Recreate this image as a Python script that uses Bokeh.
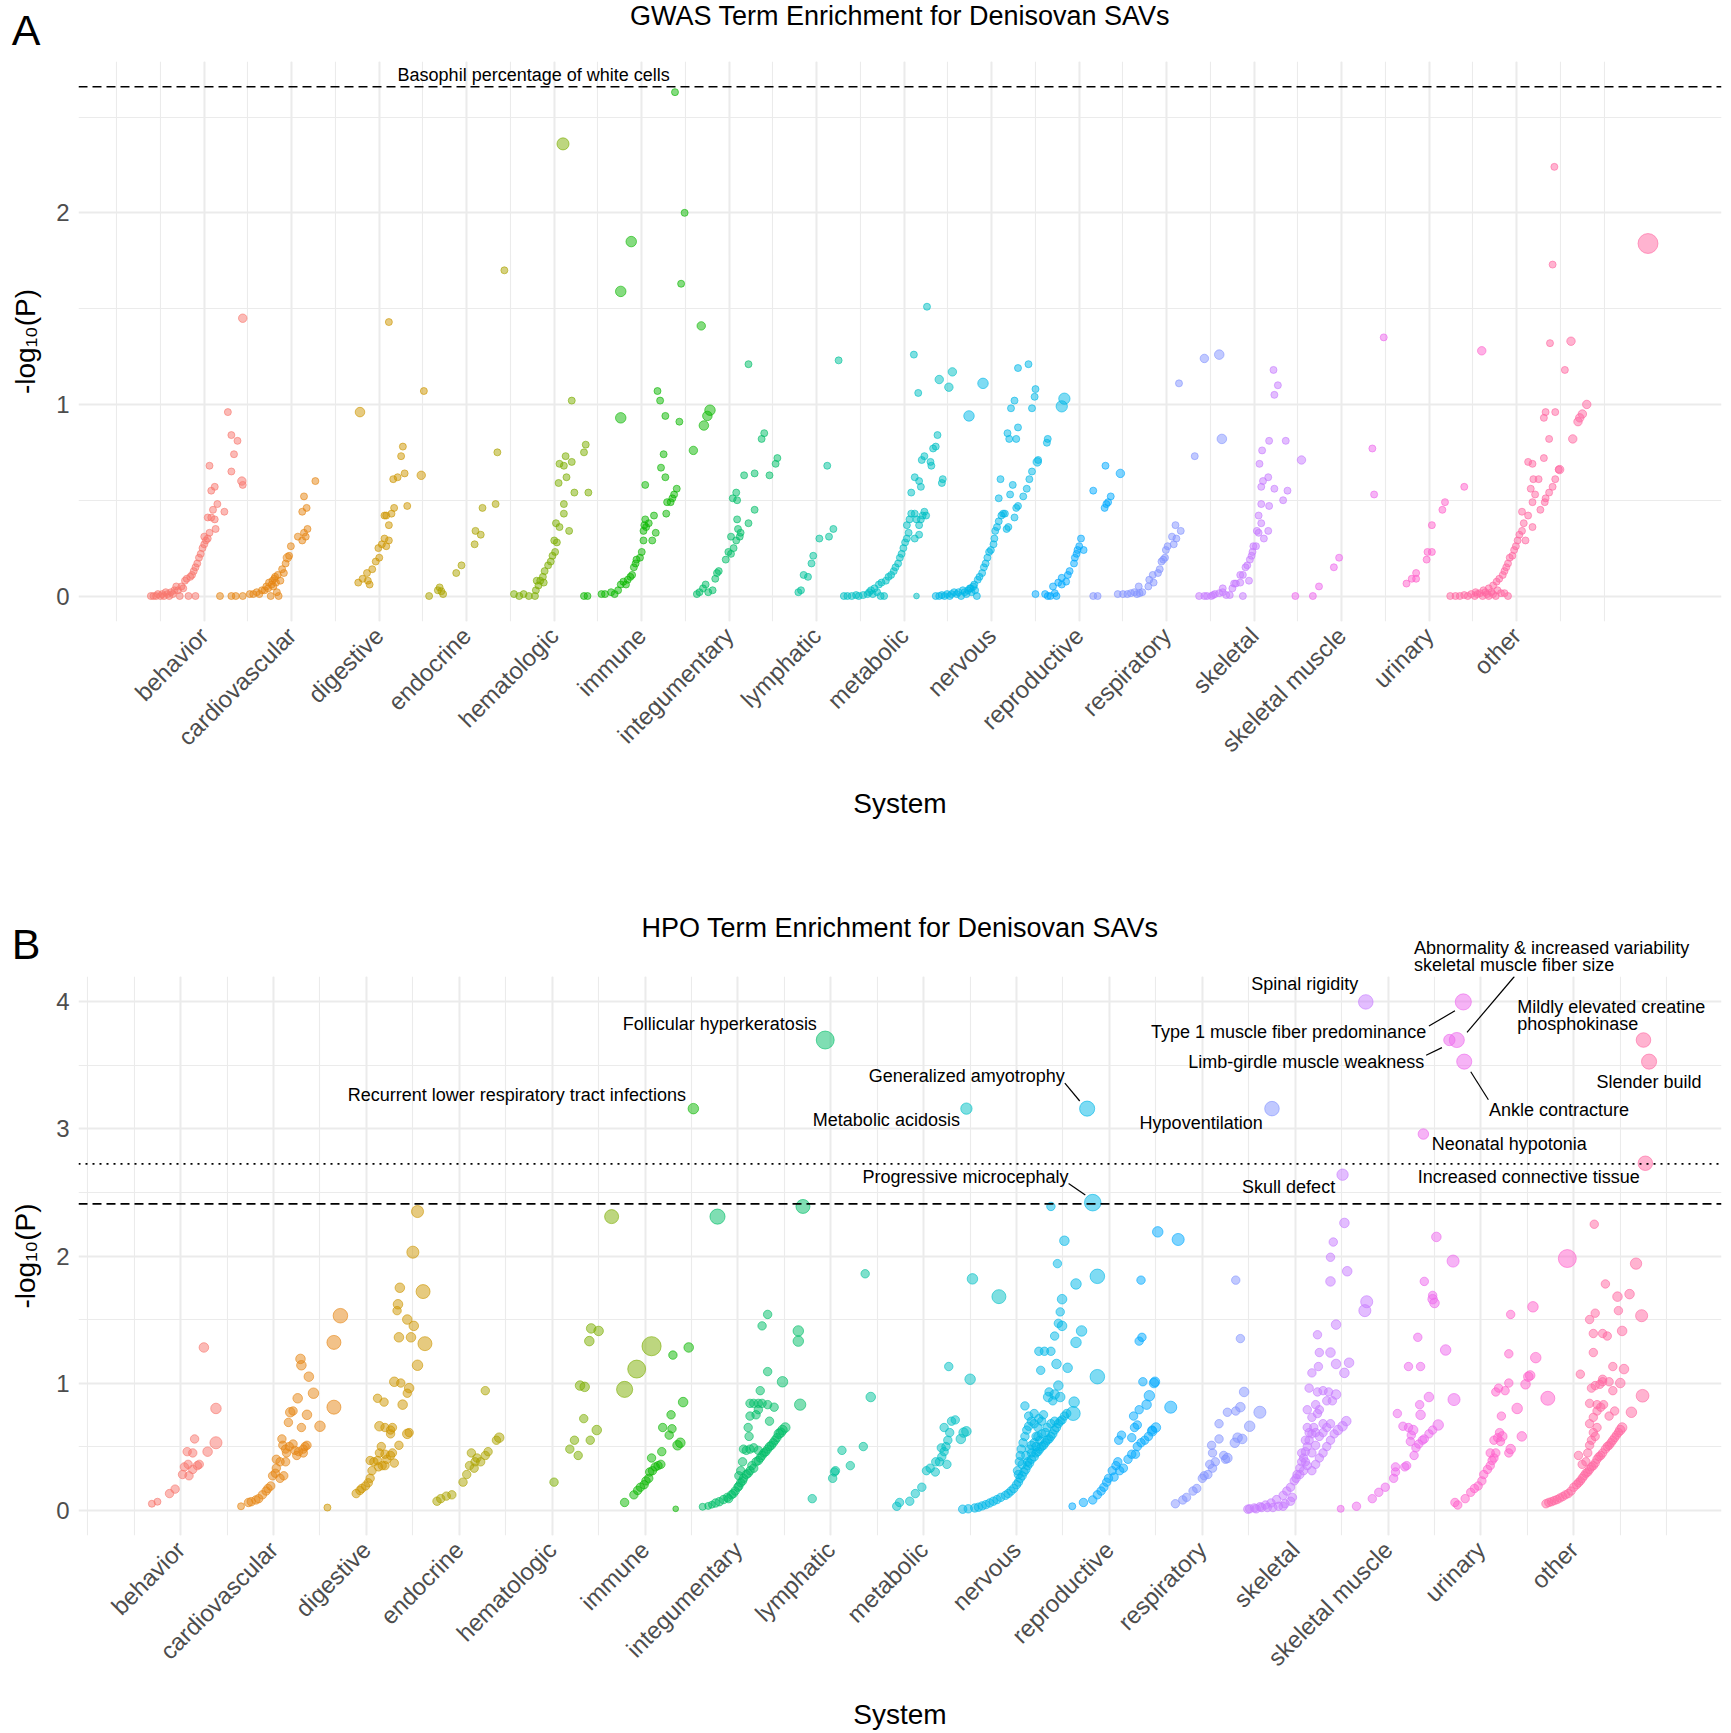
import math
from bokeh.plotting import figure
from bokeh.models import FixedTicker, Span, Label, Range1d
from bokeh.layouts import column
from bokeh.embed import file_html
from bokeh.resources import INLINE

systems = ["behavior", "cardiovascular", "digestive", "endocrine", "hematologic", "immune",
           "integumentary", "lymphatic", "metabolic", "nervous", "reproductive", "respiratory",
           "skeletal", "skeletal muscle", "urinary", "other"]
palette = ["#F8766D", "#E68613", "#CD9600", "#ABA300", "#7CAE00", "#0CB702", "#00BE67", "#00C19A",
           "#00BFC4", "#00B8E7", "#00A9FF", "#8494FF", "#C77CFF", "#ED68ED", "#FF61CC", "#FF68A1"]

# ---------------- GWAS (panel A): (position, -log10 P, gene count) ----------------
gwas_behavior = [(0.39,0.0,1),(0.42,0.0,1),(0.45,0.0,1),(0.47,0.01,1),(0.5,0.0,1),(0.52,0.01,1),(0.54,0.0,1),
    (0.56,0.02,1),(0.58,0.01,1),(0.6,0.0,1),(0.62,0.02,1),(0.64,0.01,1),(0.66,0.03,1),(0.68,0.05,1),(0.7,0.03,1),
    (0.72,0.0,1),(0.74,0.05,1),(0.76,0.04,1),(0.78,0.08,1),(0.8,0.09,1),(0.82,0.0,1),(0.84,0.1,1),(0.86,0.11,1),
    (0.88,0.13,1),(0.9,0.0,1),(0.9,0.15,1),(0.92,0.17,1),(0.94,0.2,1),(0.96,0.22,1),(0.98,0.25,1),(1.0,0.27,1),
    (1.02,0.29,1),(1.04,0.3,1),(1.0,0.31,1),(1.06,0.33,1),(1.04,0.41,1),(1.08,0.41,1),(1.1,0.45,1),(1.13,0.35,1),
    (1.15,0.48,1),(1.12,0.4,1),(1.08,0.55,1),(1.12,0.57,1),(1.06,0.68,1),(1.23,0.44,1),(1.27,0.96,1),(1.31,0.84,1),
    (1.38,0.81,1),(1.34,0.74,1),(1.31,0.65,1),(1.43,0.6,2),(1.44,0.58,1),(1.44,1.45,2)]
gwas_cardiovascular = [(1.18,0.0,1),(1.31,0.0,1),(1.36,0.0,1),(1.44,0.0,1),(1.52,0.01,1),(1.56,0.01,1),(1.6,0.02,1),
    (1.63,0.01,1),(1.66,0.03,1),(1.69,0.03,1),(1.71,0.05,1),(1.73,0.04,1),(1.74,0.07,1),(1.76,0.0,1),(1.77,0.06,1),
    (1.78,0.08,1),(1.79,0.05,1),(1.8,0.09,1),(1.81,0.1,1),(1.82,0.07,1),(1.83,0.02,1),(1.84,0.11,1),(1.85,0.0,1),
    (1.87,0.08,1),(1.89,0.14,1),(1.91,0.12,1),(1.93,0.17,1),(1.95,0.2,2),(1.97,0.21,1),(1.99,0.26,1),(2.07,0.31,1),
    (2.12,0.29,1),(2.14,0.33,1),(2.16,0.31,1),(2.18,0.35,1),(2.12,0.44,1),(2.17,0.46,1),(2.14,0.52,1),(2.27,0.6,1)]
gwas_digestive = [(2.76,0.07,1),(2.81,0.09,1),(2.87,0.08,1),(2.89,0.06,1),(2.86,0.12,1),(2.92,0.14,1),(2.96,0.18,1),
    (3.0,0.2,1),(2.99,0.25,1),(3.03,0.27,1),(3.08,0.26,1),(3.06,0.3,1),(3.11,0.29,1),(3.11,0.37,1),(3.06,0.42,1),
    (3.08,0.42,1),(3.14,0.43,1),(3.17,0.46,1),(3.32,0.47,1),(3.16,0.61,1),(3.21,0.62,1),(3.29,0.64,1),(3.25,0.73,1),
    (3.27,0.78,1),(3.48,0.63,2),(2.78,0.96,3),(3.51,1.07,1),(3.11,1.43,1)]
gwas_endocrine = [(3.57,0.0,1),(3.67,0.03,1),(3.69,0.045,1),(3.71,0.025,1),(3.73,0.01,1),(3.88,0.12,1),(3.94,0.16,1),
    (4.09,0.27,1),(4.16,0.32,1),(4.1,0.34,1),(4.18,0.46,1),(4.33,0.48,1),(4.35,0.75,1),(4.43,1.7,1)]
gwas_hematologic = [(4.54,0.01,1),(4.6,0.0,1),(4.65,0.01,1),(4.71,0.0,1),(4.78,0.0,1),(4.79,0.03,1),(4.8,0.08,1),
    (4.84,0.08,1),(4.82,0.055,1),(4.88,0.07,1),(4.89,0.13,1),(4.87,0.1,1),(4.93,0.16,1),(4.96,0.18,1),(4.98,0.21,1),
    (5.01,0.23,1),(5.0,0.29,1),(5.03,0.28,1),(5.02,0.38,1),(5.06,0.36,1),(5.17,0.34,1),(5.11,0.43,1),(5.11,0.48,1),
    (5.23,0.54,1),(5.39,0.54,1),(5.05,0.59,1),(5.14,0.62,1),(5.06,0.69,1),(5.11,0.68,1),(5.13,0.73,1),(5.2,0.7,1),
    (5.34,0.75,1),(5.36,0.79,1),(5.2,1.02,1),(5.1,2.36,6)]
gwas_immune = [(5.34,0.0,1),(5.38,0.0,1),(5.54,0.01,1),(5.58,0.01,1),(5.65,0.02,1),(5.69,0.01,1),(5.73,0.03,1),
    (5.76,0.06,1),(5.79,0.075,1),(5.82,0.06,1),(5.84,0.085,1),(5.87,0.1,1),(5.89,0.11,1),(5.91,0.15,1),(5.93,0.17,1),
    (5.94,0.19,1),(5.98,0.2,1),(6.0,0.23,1),(6.02,0.29,1),(6.02,0.34,1),(6.03,0.37,1),(6.05,0.36,1),(6.08,0.38,1),
    (6.04,0.4,1),(6.12,0.29,1),(6.16,0.33,1),(6.14,0.42,1),(6.04,0.58,1),(6.28,0.43,1),(6.29,0.49,1),(6.33,0.49,1),
    (6.35,0.51,1),(6.37,0.53,1),(6.4,0.56,1),(6.22,0.67,1),(6.27,0.62,1),(6.25,0.74,1),(6.27,0.94,1),(6.21,1.02,1),
    (6.18,1.07,1),(6.43,0.91,1),(5.76,0.93,4),(5.76,1.59,4),(5.88,1.85,4),(6.59,0.76,2),(6.68,1.41,2),(6.71,0.89,3),
    (6.75,0.94,3),(6.78,0.97,4),(6.38,2.63,1),(6.49,2.0,1),(6.45,1.63,1)]
gwas_integumentary = [(6.63,0.01,1),(6.66,0.02,1),(6.7,0.04,1),(6.73,0.06,1),(6.76,0.02,1),(6.81,0.03,1),(6.84,0.09,1),
    (6.86,0.12,1),(6.88,0.13,1),(6.96,0.19,1),(6.99,0.23,1),(7.02,0.22,1),(7.05,0.25,1),(7.08,0.29,1),(7.02,0.31,1),
    (7.12,0.31,1),(7.13,0.33,1),(7.1,0.35,1),(7.09,0.4,1),(7.22,0.38,1),(7.29,0.45,1),(7.04,0.51,1),(7.09,0.5,1),
    (7.08,0.54,1),(7.17,0.63,1),(7.29,0.64,1),(7.46,0.63,1),(7.53,0.69,1),(7.55,0.72,1),(7.37,0.82,1),(7.4,0.85,1),
    (7.22,1.21,1)]
gwas_lymphatic = [(7.79,0.02,1),(7.82,0.03,1),(7.85,0.11,1),(7.9,0.1,1),(7.94,0.17,1),(7.96,0.21,1),(8.03,0.3,1),
    (8.14,0.31,1),(8.19,0.35,1),(8.12,0.68,1),(8.25,1.23,1)]
gwas_metabolic = [(8.31,0.0,1),(8.35,0.0,1),(8.4,0.0,1),(8.45,0.005,1),(8.48,0.0,1),(8.53,0.005,1),(8.58,0.01,1),
    (8.6,0.02,1),(8.64,0.01,1),(8.69,0.02,1),(8.73,0.0,1),(8.77,0.0,1),(8.62,0.03,1),(8.66,0.04,1),(8.71,0.06,1),
    (8.74,0.07,1),(8.79,0.08,1),(8.82,0.1,1),(8.85,0.11,1),(8.88,0.13,1),(8.9,0.15,1),(8.93,0.17,1),(8.95,0.2,1),
    (8.97,0.22,1),(8.99,0.25,1),(9.01,0.28,1),(9.03,0.3,1),(9.05,0.33,1),(9.03,0.37,1),(9.06,0.4,1),(9.08,0.43,1),
    (9.12,0.43,1),(9.14,0.4,1),(9.17,0.37,1),(9.19,0.4,1),(9.21,0.42,1),(9.23,0.44,1),(9.25,0.42,1),(9.17,0.32,1),
    (9.12,0.3,1),(9.08,0.54,1),(9.12,0.62,1),(9.17,0.6,1),(9.19,0.57,1),(9.2,0.71,1),(9.23,0.73,1),(9.3,0.7,1),
    (9.31,0.68,1),(9.33,0.77,1),(9.36,0.78,1),(9.38,0.84,1),(9.43,0.59,1),(9.44,0.61,1),(9.16,1.06,1),(9.11,1.26,1),
    (9.4,1.13,2),(9.51,1.09,2),(9.55,1.17,2),(9.26,1.51,1),(9.14,0.0,0.4)]
gwas_nervous = [(9.36,0.0,1),(9.4,0.0,1),(9.43,0.005,1),(9.46,0.0,1),(9.49,0.01,1),(9.52,0.0,1),(9.54,0.01,1),
    (9.57,0.02,1),(9.6,0.01,1),(9.62,0.02,1),(9.65,0.0,1),(9.67,0.03,1),(9.69,0.02,1),(9.71,0.01,1),(9.73,0.03,1),
    (9.75,0.04,1),(9.77,0.02,1),(9.79,0.05,1),(9.81,0.03,1),(9.83,0.0,1),(9.76,0.04,1),(9.8,0.06,1),(9.84,0.085,1),
    (9.86,0.1,1),(9.89,0.12,1),(9.91,0.15,1),(9.93,0.17,1),(9.95,0.2,1),(9.97,0.23,1),(9.99,0.24,1),(10.02,0.27,1),
    (10.03,0.3,1),(10.04,0.34,1),(10.06,0.36,1),(10.08,0.39,1),(10.11,0.42,1),(10.13,0.43,1),(10.15,0.43,1),
    (10.17,0.35,1),(10.19,0.36,1),(10.1,0.61,1),(10.08,0.51,1),(10.21,0.53,1),(10.24,0.58,1),(10.26,0.41,1),
    (10.28,0.46,1),(10.3,0.47,1),(10.36,0.52,1),(10.4,0.56,1),(10.43,0.61,1),(10.46,0.65,1),(10.52,0.7,2),
    (10.53,0.71,1),(10.18,0.85,1),(10.2,0.82,1),(10.28,0.82,1),(10.3,0.88,1),(10.22,0.98,1),(10.26,1.02,1),
    (10.3,1.19,1),(10.42,1.21,1),(10.5,1.08,1),(10.49,1.04,1),(10.46,0.98,1),(10.63,0.8,1),(10.64,0.82,1),
    (10.8,0.99,5),(10.83,1.03,5),(9.74,0.94,4),(9.9,1.11,4)]
gwas_reproductive = [(10.5,0.01,1),(10.61,0.01,1),(10.64,0.0,1),(10.67,0.0,1),(10.72,0.015,1),(10.74,0.0,1),
    (10.7,0.05,1),(10.76,0.07,1),(10.8,0.06,1),(10.85,0.075,1),(10.8,0.095,1),(10.87,0.11,1),(10.89,0.13,1),
    (10.94,0.17,1),(10.95,0.2,1),(10.97,0.22,1),(10.98,0.24,1),(11.0,0.26,1),(11.02,0.3,1),(11.05,0.24,1),
    (11.16,0.55,1),(11.29,0.46,1),(11.31,0.48,1),(11.33,0.49,1),(11.36,0.52,1),(11.3,0.68,1),(11.47,0.64,2)]
gwas_respiratory = [(11.16,0.0,1),(11.21,0.0,1),(11.44,0.01,1),(11.5,0.01,1),(11.55,0.01,1),(11.59,0.015,1),
    (11.63,0.02,1),(11.66,0.01,1),(11.69,0.015,1),(11.72,0.02,1),(11.68,0.05,1),(11.79,0.05,1),(11.8,0.085,1),
    (11.85,0.07,1),(11.84,0.11,1),(11.9,0.12,1),(11.92,0.14,1),(11.94,0.18,1),(11.96,0.19,1),(11.98,0.2,1),
    (11.99,0.24,1),(12.01,0.26,1),(12.08,0.27,1),(12.11,0.3,1),(12.06,0.31,1),(12.1,0.37,1),(12.16,0.34,1),
    (12.14,1.11,1),(12.32,0.73,1),(12.43,1.24,2),(12.6,1.26,3),(12.63,0.82,3)]
gwas_skeletal = [(12.37,0.0,1),(12.43,0.0,1),(12.46,0.0,1),(12.51,0.0,1),(12.53,0.005,1),(12.55,0.01,1),(12.6,0.015,1),
    (12.64,0.02,1),(12.68,0.005,1),(12.72,0.005,1),(12.64,0.04,1),(12.75,0.04,1),(12.77,0.065,1),(12.79,0.065,1),
    (12.84,0.07,1),(12.84,0.11,1),(12.87,0.11,1),(12.94,0.08,1),(12.87,0.0,1),(12.9,0.15,1),(12.92,0.16,1),
    (12.95,0.19,1),(12.97,0.21,1),(12.98,0.23,1),(12.99,0.26,1),(13.02,0.26,1),(13.03,0.34,1),(13.05,0.33,1),
    (13.08,0.38,1),(13.05,0.42,1),(13.11,0.3,1),(13.16,0.34,1),(13.17,0.47,1),(13.08,0.48,1),(13.23,0.56,1),
    (13.1,0.6,1),(13.16,0.62,1),(13.08,0.57,1),(13.06,0.69,1),(13.09,0.76,1),(13.17,0.81,1),(13.36,0.81,1),
    (13.33,0.5,1),(13.38,0.55,1),(13.54,0.71,2),(13.22,1.18,1),(13.27,1.1,1),(13.23,1.05,1)]
gwas_skeletal_muscle = [(13.47,0.0,1),(13.67,0.0,1),(13.74,0.05,1),(13.91,0.15,1),(13.97,0.2,1),(14.37,0.53,1),
    (14.35,0.77,1),(14.48,1.35,1)]
gwas_urinary = [(14.74,0.065,1),(14.8,0.09,1),(14.85,0.09,1),(14.85,0.12,1),(14.97,0.19,1),(14.98,0.23,1),
    (15.03,0.23,1),(15.03,0.37,1),(15.15,0.45,1),(15.18,0.49,1),(15.4,0.57,1),(15.6,1.28,2)]
gwas_other = [(15.24,0.0,1),(15.3,0.0,1),(15.35,0.0,1),(15.4,0.005,1),(15.44,0.0,1),(15.48,0.01,1),(15.52,0.0,1),
    (15.55,0.01,1),(15.58,0.015,1),(15.61,0.0,1),(15.64,0.02,1),(15.66,0.01,1),(15.68,0.0,1),(15.71,0.02,1),
    (15.73,0.01,1),(15.76,0.0,1),(15.78,0.03,1),(15.82,0.015,1),(15.86,0.015,1),(15.9,0.0,1),(15.53,0.02,1),
    (15.62,0.03,1),(15.68,0.04,1),(15.73,0.055,1),(15.77,0.075,1),(15.8,0.09,1),(15.84,0.11,1),(15.86,0.13,1),
    (15.88,0.15,1),(15.9,0.17,1),(15.92,0.2,1),(15.95,0.21,1),(15.97,0.24,1),(15.99,0.26,1),(16.01,0.29,1),
    (16.03,0.32,1),(16.06,0.34,1),(16.08,0.38,1),(16.1,0.29,1),(16.06,0.44,1),(16.13,0.42,1),(16.18,0.36,1),
    (16.18,0.49,1),(16.16,0.56,1),(16.21,0.53,1),(16.19,0.61,1),(16.25,0.61,1),(16.27,0.45,1),(16.32,0.49,1),
    (16.33,0.51,1),(16.37,0.54,1),(16.41,0.57,1),(16.44,0.61,1),(16.48,0.66,1),(16.49,0.66,2),(16.13,0.7,1),
    (16.18,0.69,1),(16.31,0.72,1),(16.37,0.82,1),(16.31,0.93,1),(16.33,0.96,1),(16.44,0.96,1),(16.64,0.82,2),
    (16.7,0.91,2),(16.72,0.93,2),(16.75,0.95,2),(16.8,1.0,2),(16.55,1.18,1),(16.38,1.32,1),(16.62,1.33,2),
    (16.41,1.73,1),(16.43,2.24,1),(17.5,1.84,22)]

# ---------------- HPO (panel B): (position, -log10 P, gene count) ----------------
hpo_behavior = [(0.69,0.05,1),(0.75,0.066,1),(0.88,0.13,2),(0.94,0.165,2),(1.02,0.28,2),(1.04,0.34,2),(1.08,0.36,2),
    (1.09,0.27,2),(1.13,0.32,2),(1.07,0.46,2),(1.13,0.45,2),(1.15,0.56,2),(1.18,0.35,2),(1.2,0.36,2),(1.25,1.28,3),
    (1.29,0.46,3),(1.38,0.8,4),(1.38,0.53,6)]
hpo_cardiovascular = [(1.65,0.03,1),(1.73,0.06,2),(1.76,0.066,2),(1.81,0.08,2),(1.84,0.09,2),(1.88,0.12,2),
    (1.92,0.15,2),(1.94,0.17,2),(1.97,0.19,2),(1.99,0.27,2),(2.03,0.33,2),(2.02,0.29,2),(2.07,0.25,2),(2.11,0.27,2),
    (2.03,0.4,2),(2.07,0.38,2),(2.13,0.38,2),(2.1,0.51,2),(2.13,0.48,2),(2.14,0.45,2),(2.17,0.5,2),(2.21,0.52,2),
    (2.23,0.47,2),(2.25,0.43,2),(2.27,0.46,2),(2.32,0.48,2),(2.34,0.5,2),(2.36,0.51,2),(2.32,0.45,2),(2.09,0.56,2),
    (2.16,0.69,2),(2.3,0.65,2),(2.18,0.77,3),(2.21,0.78,2),(2.26,0.88,3),(2.36,0.75,3),(2.29,1.19,3),(2.3,1.14,3),
    (2.38,1.05,3),(2.43,0.92,4),(2.5,0.66,4),(2.65,0.81,9),(2.65,1.32,9),(2.72,1.53,10)]
hpo_digestive = [(2.58,0.02,1),(2.89,0.13,2),(2.93,0.155,2),(2.95,0.17,2),(2.99,0.19,2),(3.02,0.215,2),(3.04,0.25,2),
    (3.06,0.31,2),(3.08,0.38,2),(3.12,0.39,2),(3.13,0.34,2),(3.17,0.35,2),(3.2,0.35,2),(3.2,0.44,2),(3.22,0.4,2),
    (3.26,0.43,2),(3.28,0.45,2),(3.3,0.37,2),(3.35,0.51,2),(3.04,0.39,2),(3.14,0.45,2),(3.16,0.5,2),(3.2,0.65,2),
    (3.14,0.66,3),(3.26,0.63,2),(3.26,0.6,2),(3.28,0.65,2),(3.39,0.83,3),(3.44,0.6,3),(3.46,0.61,2),(3.12,0.88,2),
    (3.19,0.85,2),(3.3,1.01,3),(3.37,1.0,2),(3.46,0.96,3),(3.44,0.92,2),(3.35,1.36,3),(3.48,1.36,3),(3.51,1.45,3),
    (3.44,1.5,3),(3.33,1.57,2),(3.34,1.62,3),(3.36,1.75,3),(3.55,1.14,4),(3.63,1.31,9),(3.61,1.72,9),(3.5,2.03,6),
    (3.55,2.35,6)]
hpo_endocrine = [(3.76,0.07,2),(3.8,0.09,2),(3.86,0.11,2),(3.92,0.12,2),(4.04,0.22,2),(4.08,0.28,2),(4.11,0.35,2),
    (4.16,0.33,2),(4.17,0.38,2),(4.13,0.45,2),(4.19,0.41,2),(4.23,0.38,2),(4.28,0.43,2),(4.31,0.46,2),(4.4,0.55,2),
    (4.43,0.57,3),(4.28,0.94,2)]
hpo_hematologic = [(5.02,0.22,2),(5.19,0.48,2),(5.24,0.55,2),(5.28,0.43,2),(5.34,0.72,2),(5.48,0.63,3),(5.41,0.55,2),
    (5.3,0.98,3),(5.35,0.97,3),(5.4,1.33,3),(5.42,1.43,3),(5.5,1.41,3),(5.64,2.31,9),(5.78,0.95,13),(5.91,1.11,17),
    (6.07,1.29,20)]
hpo_immune = [(5.78,0.06,2),(5.88,0.12,2),(5.92,0.155,2),(5.95,0.18,2),(5.99,0.2,2),(6.01,0.23,2),(6.04,0.25,2),
    (6.05,0.3,2),(6.08,0.31,2),(6.11,0.34,2),(6.14,0.35,2),(6.17,0.36,2),(6.07,0.41,2),(6.18,0.46,2),(6.19,0.65,2),
    (6.28,0.75,2),(6.26,0.59,2),(6.29,0.64,2),(6.3,1.22,2),(6.35,0.51,3),(6.38,0.53,3),(6.41,0.85,3),(6.47,1.28,3),
    (6.33,0.01,0.4),(6.52,3.16,4)]
hpo_integumentary = [(6.62,0.026,1),(6.68,0.033,1),(6.72,0.043,1),(6.76,0.056,2),(6.8,0.066,2),(6.845,0.083,2),
    (6.885,0.1,2),(6.93,0.12,2),(6.97,0.15,2),(7.0,0.18,2),(7.03,0.215,2),(7.06,0.25,2),(7.09,0.28,2),(7.13,0.31,2),
    (7.15,0.35,2),(7.195,0.38,2),(7.24,0.41,2),(7.28,0.45,2),(7.32,0.48,2),(7.36,0.51,2),(7.4,0.55,2),(7.44,0.6,3),
    (7.48,0.63,3),(7.51,0.65,3),(6.9,0.09,2),(6.95,0.13,2),(7.01,0.19,2),(7.05,0.23,2),(7.11,0.29,2),(7.17,0.33,2),
    (7.22,0.39,2),(7.26,0.43,2),(7.3,0.46,2),(7.34,0.5,2),(7.38,0.53,2),(7.42,0.57,2),(7.46,0.61,3),(7.01,0.27,2),
    (7.03,0.31,2),(7.05,0.38,2),(7.06,0.48,2),(7.09,0.47,2),(7.13,0.48,2),(7.17,0.49,2),(7.22,0.47,2),(7.11,0.65,2),
    (7.13,0.74,2),(7.195,0.75,2),(7.22,0.84,2),(7.26,0.84,2),(7.13,0.84,2),(7.17,0.84,2),(7.24,0.94,2),(7.22,0.79,2),
    (7.32,0.83,2),(7.39,0.81,2),(7.34,0.7,2),(7.12,0.58,2),(7.32,1.09,2),(7.48,1.01,4),(7.65,1.41,4),(7.65,1.33,4),
    (7.67,0.83,5),(7.26,1.45,2),(7.32,1.54,2),(6.78,2.31,11),(7.7,2.39,9),(7.94,3.7,17)]
hpo_lymphatic = [(7.8,0.09,2),(8.02,0.25,2),(8.04,0.3,2),(8.05,0.31,2),(8.12,0.47,2),(8.21,0.35,2),(8.35,0.5,2),
    (8.43,0.89,3),(8.37,1.86,2)]
hpo_metabolic = [(8.71,0.03,2),(8.74,0.06,2),(8.85,0.07,2),(8.91,0.13,2),(8.98,0.18,2),(9.03,0.31,2),(9.07,0.33,2),
    (9.125,0.3,2),(9.13,0.38,2),(9.17,0.38,2),(9.195,0.42,2),(9.22,0.46,2),(9.24,0.5,2),(9.26,0.55,2),(9.28,0.61,2),
    (9.3,0.7,2),(9.34,0.71,2),(9.22,0.65,2),(9.25,0.36,2),(9.19,0.49,2),(9.4,0.56,3),(9.43,0.61,3),(9.46,0.62,3),
    (9.27,1.13,2),(9.5,1.03,4),(9.525,1.82,4),(9.46,3.16,5),(9.81,1.68,9)]
hpo_nervous = [(9.42,0.007,2),(9.48,0.01,2),(9.55,0.017,2),(9.59,0.023,2),(9.63,0.033,2),(9.67,0.043,2),
    (9.71,0.056,2),(9.75,0.07,2),(9.79,0.083,2),(9.83,0.1,2),(9.88,0.116,2),(9.91,0.13,2),(9.94,0.15,2),
    (9.97,0.17,2),(10.0,0.2,2),(10.02,0.22,2),(10.04,0.25,2),(10.06,0.27,2),(10.08,0.3,2),(10.1,0.32,2),
    (10.12,0.35,2),(10.14,0.37,2),(10.16,0.4,2),(10.19,0.42,2),(10.21,0.45,2),(10.23,0.46,2),(10.25,0.48,2),
    (10.27,0.5,2),(10.29,0.51,2),(10.31,0.53,2),(10.33,0.55,2),(10.35,0.56,2),(10.37,0.58,2),(10.39,0.6,2),
    (10.41,0.63,2),(10.43,0.65,2),(10.45,0.68,2),(10.47,0.7,2),(10.49,0.71,2),(10.515,0.74,2),(10.54,0.76,2),
    (10.01,0.31,2),(10.03,0.38,2),(10.04,0.43,2),(10.05,0.48,2),(10.07,0.53,2),(10.09,0.58,2),(10.11,0.63,2),
    (10.13,0.66,2),(10.16,0.7,2),(10.19,0.68,2),(10.23,0.65,2),(10.27,0.7,2),(10.29,0.75,2),(10.31,0.61,2),
    (10.25,0.55,2),(10.21,0.58,2),(10.16,0.51,2),(10.09,0.82,2),(10.13,0.74,2),(10.19,0.76,2),(10.24,0.72,2),
    (10.02,0.28,2),(10.06,0.36,2),(10.1,0.43,2),(10.14,0.48,2),(10.19,0.53,2),(10.23,0.58,2),(10.12,0.38,2),
    (10.16,0.45,2),(10.21,0.5,2),(10.27,0.6,2),(10.33,0.65,2),(10.37,0.68,2),(10.41,0.7,2),(10.34,0.89,3),
    (10.41,0.91,3),(10.39,0.86,2),(10.45,0.98,3),(10.47,0.89,3),(10.35,0.93,2),(10.26,1.1,2),(10.24,1.25,2),
    (10.3,1.25,2),(10.37,1.25,2),(10.43,1.15,3),(10.55,1.12,3),(10.41,1.37,2),(10.49,1.45,3),(10.45,1.47,2),
    (10.47,1.56,2),(10.49,1.66,3),(10.7,1.41,4),(10.64,1.32,4),(10.64,1.78,4),(10.62,0.85,4),(10.61,0.76,9),
    (10.87,1.05,10),(10.87,1.84,10),(10.44,1.94,2),(10.515,2.12,3),(10.37,2.39,2),(10.82,2.42,14),(10.76,3.16,11)]
hpo_reproductive = [(10.6,0.03,1),(10.72,0.06,2),(10.82,0.08,2),(10.87,0.12,2),(10.91,0.15,2),(10.94,0.18,2),
    (10.97,0.22,2),(10.99,0.25,2),(11.03,0.31,2),(11.07,0.35,2),(11.09,0.38,2),(11.05,0.26,2),(11.11,0.31,2),
    (11.15,0.33,2),(11.2,0.4,2),(11.24,0.44,2),(11.28,0.44,2),(11.3,0.5,2),(11.34,0.53,2),(11.38,0.55,2),
    (11.42,0.58,2),(11.46,0.63,2),(11.5,0.65,3),(11.1,0.55,2),(11.13,0.59,2),(11.24,0.57,2),(11.27,0.65,2),
    (11.3,0.67,2),(11.26,0.74,2),(11.32,0.79,2),(11.4,0.83,3),(11.36,1.01,2),(11.48,1.0,3),(11.32,1.33,2),
    (11.35,1.36,2),(11.34,1.81,2),(11.52,2.19,4),(11.74,2.13,6),(11.43,0.9,4),(11.66,0.81,6),(11.46,0.62,3),
    (11.49,1.01,3)]
hpo_respiratory = [(11.71,0.05,2),(11.79,0.08,2),(11.83,0.1,2),(11.9,0.15,2),(11.94,0.17,2),(12.0,0.25,2),
    (12.02,0.27,2),(12.06,0.28,2),(12.11,0.33,2),(12.14,0.38,2),(12.08,0.36,2),(12.11,0.45,2),(12.1,0.51,2),
    (12.18,0.56,2),(12.25,0.4,2),(12.27,0.41,3),(12.23,0.43,2),(12.18,0.68,2),(12.27,0.77,2),(12.36,0.78,2),
    (12.41,0.81,3),(12.35,0.53,3),(12.38,0.57,3),(12.43,0.56,3),(12.51,0.66,4),(12.45,0.93,3),(12.62,0.77,6),
    (12.41,1.35,2),(12.36,1.81,2),(12.75,3.16,10)]
hpo_skeletal = [(12.49,0.007,2),(12.56,0.017,2),(12.62,0.026,2),(12.68,0.04,2),(12.74,0.056,2),(12.8,0.083,2),
    (12.87,0.116,2),(12.91,0.15,2),(12.95,0.18,2),(12.99,0.23,2),(13.02,0.28,2),(13.05,0.33,2),(13.07,0.38,2),
    (13.09,0.41,2),(13.11,0.46,2),(13.13,0.5,2),(13.15,0.55,2),(13.18,0.6,2),(13.18,0.31,2),(13.22,0.36,2),
    (13.26,0.41,2),(13.3,0.45,2),(13.34,0.5,2),(13.38,0.55,2),(13.42,0.6,2),(13.46,0.63,3),(13.51,0.66,3),
    (13.55,0.7,3),(13.01,0.25,2),(13.05,0.28,2),(13.09,0.31,2),(13.13,0.35,2),(13.11,0.38,2),(13.07,0.45,2),
    (13.11,0.55,2),(13.15,0.61,2),(13.2,0.65,2),(13.13,0.65,2),(13.18,0.45,2),(13.22,0.51,2),(13.26,0.58,2),
    (13.3,0.61,2),(13.22,0.61,2),(13.3,0.68,2),(13.34,0.65,2),(13.38,0.68,2),(12.51,0.01,2),(12.58,0.01,2),
    (12.64,0.02,2),(12.7,0.02,2),(12.76,0.02,2),(12.82,0.03,2),(12.89,0.05,2),(12.95,0.07,2),(12.87,0.03,2),
    (12.97,0.1,2),(13.13,0.79,2),(13.22,0.83,2),(13.26,0.79,2),(13.18,0.73,2),(13.24,0.76,2),(13.34,0.86,2),
    (13.4,0.86,2),(13.44,0.91,3),(13.15,0.96,2),(13.24,0.93,2),(13.3,0.94,2),(13.36,0.93,2),(13.18,1.08,2),
    (13.25,1.13,2),(13.38,1.24,3),(13.44,1.15,3),(13.53,1.08,3),(13.58,1.16,3),(13.26,1.24,2),(13.24,1.38,2),
    (13.44,1.46,3),(13.75,1.57,6),(13.77,1.64,6),(13.38,1.8,3),(13.56,1.88,3),(13.38,1.99,2),(13.41,2.11,2),
    (13.53,2.26,3),(13.51,2.64,5),(13.76,4.0,10)]
hpo_skeletal_muscle = [(13.49,0.01,1),(13.66,0.03,2),(13.83,0.09,2),(13.9,0.14,2),(13.97,0.18,2),(14.06,0.25,2),
    (14.08,0.3,2),(14.18,0.34,2),(14.2,0.35,2),(14.08,0.34,2),(14.28,0.43,2),(14.3,0.49,2),(14.33,0.52,2),
    (14.37,0.55,2),(14.39,0.56,2),(14.44,0.6,2),(14.48,0.63,2),(14.25,0.59,2),(14.27,0.63,3),(14.24,0.54,2),
    (14.22,0.65,2),(14.16,0.66,2),(14.1,0.76,2),(14.35,0.75,3),(14.34,0.83,2),(14.44,0.89,3),(14.54,0.67,4),
    (14.22,1.13,2),(14.35,1.13,2),(14.32,1.36,2),(14.62,1.26,4),(14.71,0.87,6),(14.48,1.66,3),(14.5,1.63,3),
    (14.48,1.69,2),(14.39,1.8,2),(14.7,1.96,6),(14.52,2.15,3),(14.38,2.96,4),(14.81,4.0,13),(14.74,3.7,11),
    (14.66,3.7,5),(14.82,3.53,11)]
hpo_urinary = [(14.72,0.06,2),(14.75,0.04,2),(14.83,0.09,2),(14.89,0.14,2),(14.93,0.17,2),(14.97,0.19,2),
    (15.01,0.23,2),(15.03,0.28,2),(15.07,0.32,2),(15.1,0.35,2),(15.12,0.39,2),(15.14,0.41,2),(15.16,0.45,2),
    (15.1,0.45,2),(15.14,0.55,2),(15.18,0.57,2),(15.21,0.54,2),(15.2,0.61,2),(15.23,0.58,3),(15.32,0.48,3),
    (15.3,0.45,2),(15.44,0.58,3),(15.22,0.74,2),(15.39,0.8,4),(15.16,0.93,2),(15.19,0.96,2),(15.26,0.94,2),
    (15.3,1.0,2),(15.48,0.99,3),(15.51,1.05,3),(15.53,1.06,3),(15.72,0.88,9),(15.59,1.2,4),(15.3,1.23,2),
    (15.32,1.54,2),(15.56,1.6,4),(15.93,1.98,17)]
hpo_other = [(15.7,0.05,2),(15.76,0.066,2),(15.82,0.083,2),(15.88,0.106,2),(15.94,0.13,2),(16.0,0.18,2),
    (16.05,0.215,2),(16.09,0.25,2),(16.13,0.29,2),(16.17,0.32,2),(16.21,0.35,2),(16.25,0.4,2),(16.29,0.43,2),
    (16.34,0.48,2),(16.38,0.51,2),(16.42,0.55,2),(16.46,0.59,2),(16.5,0.63,3),(16.52,0.65,3),(15.73,0.06,2),
    (15.79,0.075,2),(15.85,0.095,2),(15.91,0.12,2),(15.97,0.15,2),(16.03,0.2,2),(16.07,0.23,2),(16.11,0.27,2),
    (16.15,0.3,2),(16.19,0.34,2),(16.23,0.37,2),(16.27,0.42,2),(16.31,0.45,2),(16.36,0.5,2),(16.4,0.53,2),
    (16.44,0.57,2),(16.48,0.61,2),(16.05,0.43,2),(16.09,0.36,2),(16.13,0.38,2),(16.15,0.45,2),(16.17,0.51,2),
    (16.19,0.55,2),(16.23,0.58,2),(16.21,0.61,2),(16.25,0.65,2),(16.17,0.68,2),(16.21,0.73,2),(16.25,0.78,2),
    (16.29,0.81,2),(16.32,0.83,2),(16.25,0.83,2),(16.38,0.74,2),(16.44,0.78,2),(16.17,0.84,2),(16.19,0.96,2),
    (16.23,0.98,2),(16.28,0.99,2),(16.31,1.03,2),(16.38,1.01,2),(16.42,0.94,2),(16.5,1.0,3),(16.07,1.07,2),
    (16.31,1.01,2),(16.42,1.13,2),(16.54,1.11,3),(16.21,1.24,2),(16.36,1.37,2),(16.21,1.39,2),(16.31,1.39,2),
    (16.52,1.41,3),(16.17,1.5,2),(16.23,1.55,2),(16.48,1.57,2),(16.47,1.68,3),(16.6,1.7,3),(16.34,1.78,2),
    (16.73,1.53,6),(16.74,0.9,7),(16.62,0.77,4),(16.67,1.94,5),(16.22,2.25,2),(16.75,3.7,10),(16.81,3.53,11),
    (16.77,2.73,10)]

gwas_groups = [gwas_behavior, gwas_cardiovascular, gwas_digestive, gwas_endocrine, gwas_hematologic, gwas_immune,
               gwas_integumentary, gwas_lymphatic, gwas_metabolic, gwas_nervous, gwas_reproductive,
               gwas_respiratory, gwas_skeletal, gwas_skeletal_muscle, gwas_urinary, gwas_other]
hpo_groups = [hpo_behavior, hpo_cardiovascular, hpo_digestive, hpo_endocrine, hpo_hematologic, hpo_immune,
              hpo_integumentary, hpo_lymphatic, hpo_metabolic, hpo_nervous, hpo_reproductive, hpo_respiratory,
              hpo_skeletal, hpo_skeletal_muscle, hpo_urinary, hpo_other]

gwas_threshold = 2.658
hpo_threshold_dashed = 2.41
hpo_threshold_dotted = 2.725

gwas_labels = [("Basophil percentage of white cells", 6.32, 2.72, "right")]
hpo_labels = [
    ("Recurrent lower respiratory tract infections", 6.44, 3.27, "right"),
    ("Follicular hyperkeratosis", 7.85, 3.83, "right"),
    ("Generalized amyotrophy", 10.52, 3.42, "right"),
    ("Metabolic acidosis", 9.39, 3.07, "right"),
    ("Progressive microcephaly", 10.56, 2.62, "right"),
    ("Spinal rigidity", 13.68, 4.14, "right"),
    ("Mildly elevated creatine", 15.39, 3.96, "left"),
    ("phosphokinase", 15.39, 3.83, "left"),
    ("Type 1 muscle fiber predominance", 14.41, 3.76, "right"),
    ("Limb-girdle muscle weakness", 14.39, 3.53, "right"),
    ("Slender build", 16.81, 3.37, "center"),
    ("Ankle contracture", 15.84, 3.15, "center"),
    ("Hypoventilation", 12.65, 3.05, "right"),
    ("Neonatal hypotonia", 14.47, 2.88, "left"),
    ("Increased connective tissue", 16.71, 2.62, "right"),
    ("Skull defect", 13.43, 2.54, "right"),
]
# label lines that sit above the top edge of panel B (x in data units, y in px inside the header strip)
hpo_top_labels = [("Abnormality & increased variability", 14.28, 28, "left"),
                  ("skeletal muscle fiber size", 14.28, 11, "left")]
hpo_leaders_x0 = [10.52, 10.56, 15.36, 14.44, 14.41, 14.89]
hpo_leaders_y0 = [3.36, 2.57, 4.20, 3.81, 3.58, 3.45]
hpo_leaders_x1 = [10.68, 10.74, 14.85, 14.72, 14.58, 15.08]
hpo_leaders_y1 = [3.22, 2.48, 3.76, 3.93, 3.64, 3.23]

FONT = "Liberation Sans"
GRID = "#EBEBEB"
W = 1723


def diameter(n):
    return 3.5 + 3.5 * math.sqrt(n)


def header(height, xr, letter, letter_y):
    # strip above a panel; its frame is aligned with the panel frame by the column layout
    h = figure(width=W, height=height, x_range=Range1d(*xr), y_range=Range1d(0, height),
               x_axis_type=None, output_backend="svg", toolbar_location=None, min_border=0)
    h.outline_line_color = None
    h.ygrid.visible = False
    ax = h.yaxis[0]
    ax.ticker = FixedTicker(ticks=[letter_y])
    ax.major_label_overrides = {letter_y: letter}
    ax.axis_line_color = None
    ax.major_tick_line_color = None
    ax.minor_tick_line_color = None
    ax.major_tick_in = 0
    ax.major_tick_out = 0
    ax.minor_tick_in = 0
    ax.minor_tick_out = 0
    ax.major_label_standoff = 38
    ax.major_label_text_font = FONT
    ax.major_label_text_font_size = "43px"
    ax.major_label_text_color = "black"
    return h


def txt(p, x, y, text, size, align="left", baseline="middle"):
    p.add_layout(Label(x=x, y=y, text=text, text_font=FONT, text_font_size=size,
                       text_align=align, text_baseline=baseline, text_color="black"))


def panel(groups, height, borders, xr, yr, yticks, yminor, label_standoff):
    p = figure(width=W, height=height, x_range=Range1d(*xr), y_range=Range1d(*yr),
               output_backend="svg", toolbar_location=None,
               min_border_left=borders[0], min_border_right=borders[1],
               min_border_top=borders[2], min_border_bottom=borders[3])
    p.outline_line_color = None
    p.background_fill_color = "white"
    p.border_fill_color = "white"

    xt = FixedTicker(ticks=list(range(1, 17)), minor_ticks=[k * 0.5 for k in range(35)])
    yt = FixedTicker(ticks=yticks, minor_ticks=yminor)
    p.xaxis.ticker = xt
    p.xgrid.ticker = xt
    p.yaxis.ticker = yt
    p.ygrid.ticker = yt
    for g in (p.xgrid, p.ygrid):
        g.grid_line_color = GRID
        g.grid_line_width = 2
        g.minor_grid_line_color = GRID
        g.minor_grid_line_width = 1.1
    for ax in (p.xaxis, p.yaxis):
        ax.axis_line_color = None
        ax.major_tick_line_color = None
        ax.minor_tick_line_color = None
        ax.major_tick_in = 0
        ax.major_tick_out = 0
        ax.minor_tick_in = 0
        ax.minor_tick_out = 0
        ax.major_label_text_font = FONT
        ax.major_label_text_font_size = "24px"
        ax.major_label_text_color = "#4D4D4D"
        ax.axis_label_text_font = FONT
        ax.axis_label_text_font_size = "28px"
        ax.axis_label_text_font_style = "normal"
        ax.axis_label_text_color = "black"
    p.xaxis.axis_label = "System"
    p.xaxis.major_label_overrides = {i + 1: s for i, s in enumerate(systems)}
    p.xaxis.major_label_orientation = math.pi / 4
    p.xaxis.major_label_standoff = 10
    p.xaxis.axis_label_standoff = label_standoff
    p.yaxis.axis_label = "-log\u2081\u2080(P)"
    p.yaxis.major_label_standoff = 9
    p.yaxis.axis_label_standoff = 12

    for col, pts in zip(palette, groups):
        xs = [t[0] for t in pts]
        ys = [t[1] for t in pts]
        sz = [diameter(t[2]) for t in pts]
        p.scatter(x=xs, y=ys, size=sz, marker="circle", fill_color=col, fill_alpha=0.5,
                  line_color=col, line_alpha=0.6, line_width=1)
    return p


XR_A = (-0.437, 18.34)
YR_A = (-0.133, 2.79)
XR_B = (-0.1, 17.59)
YR_B = (-0.2, 4.2)

# ---- panel A ----
hA = header(53, XR_A, "A", 24)
txt(hA, (XR_A[0] + XR_A[1]) / 2, 37.5, "GWAS Term Enrichment for Denisovan SAVs", "27px", "center")

pA = panel(gwas_groups, 815, (77, 2, 8, 247), XR_A, YR_A, [0, 1, 2], [0.5, 1.5, 2.5], 18)
pA.add_layout(Span(location=gwas_threshold, dimension="width", line_color="black",
                   line_width=1.6, line_dash="9 5"))
for t, x, y, al in gwas_labels:
    txt(pA, x, y, t, "18px", al)

# ---- panel B ----
hB = header(107, XR_B, "B", 32)
txt(hB, (XR_B[0] + XR_B[1]) / 2, 47.5, "HPO Term Enrichment for Denisovan SAVs", "27px", "center")
for t, x, y, al in hpo_top_labels:
    txt(hB, x, y, t, "18px", al)

pB = panel(hpo_groups, 757, (78, 2, 1, 197), XR_B, YR_B, [0, 1, 2, 3, 4], [0.5, 1.5, 2.5, 3.5], 15)
pB.add_layout(Span(location=hpo_threshold_dashed, dimension="width", line_color="black",
                   line_width=1.6, line_dash="9 5"))
pB.add_layout(Span(location=hpo_threshold_dotted, dimension="width", line_color="black",
                   line_width=1.8, line_dash="2 5"))
pB.segment(x0=hpo_leaders_x0, y0=hpo_leaders_y0, x1=hpo_leaders_x1, y1=hpo_leaders_y1,
           line_color="black", line_width=1.2)
for t, x, y, al in hpo_labels:
    txt(pB, x, y, t, "18px", al)

layout = column(hA, pA, hB, pB)
open("out.html", "w").write(file_html(layout, INLINE, title="Term enrichment for Denisovan SAVs"))
